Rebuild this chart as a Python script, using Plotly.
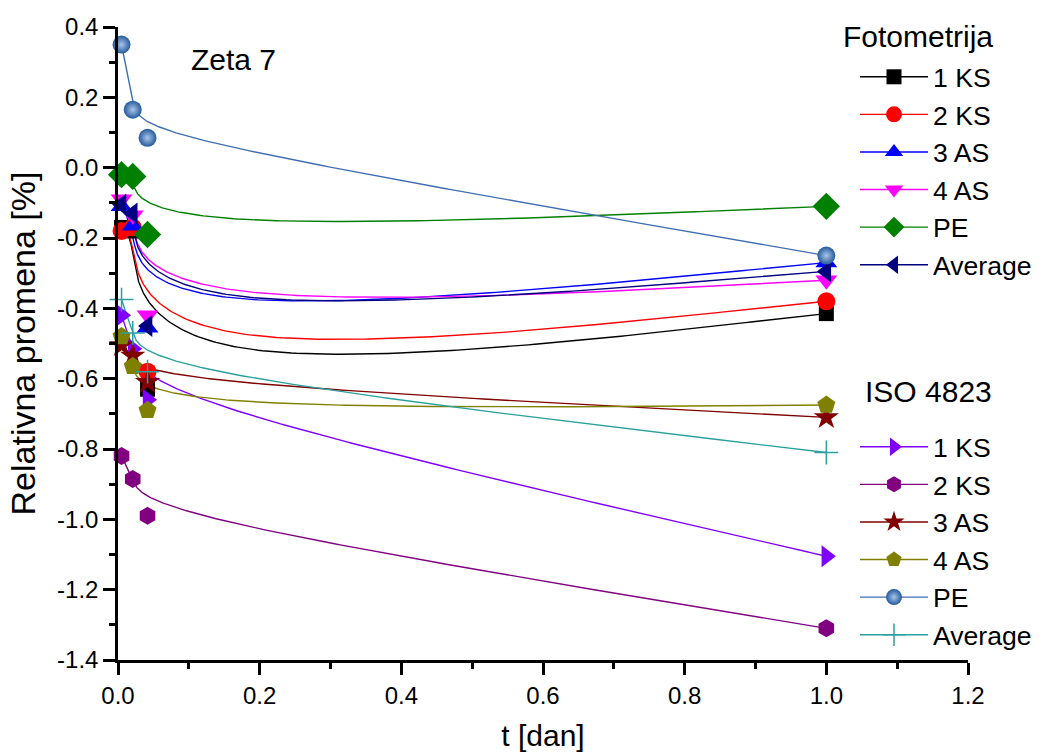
import numpy as np
import plotly.graph_objects as go

# ---------------- data ----------------
t_days = [0.005, 0.0208, 0.0417, 1.0]

foto_1ks = [-0.17, -0.18, -0.63, -0.415]
foto_2ks = [-0.18, -0.17, -0.58, -0.38]
foto_3as = [-0.11, -0.165, -0.455, -0.27]
foto_4as = [-0.09, -0.135, -0.42, -0.32]
foto_pe = [-0.02, -0.025, -0.19, -0.11]
foto_avg = [-0.105, -0.13, -0.45, -0.295]

iso_1ks = [-0.42, -0.515, -0.66, -1.105]
iso_2ks = [-0.82, -0.885, -0.99, -1.31]
iso_3as = [-0.505, -0.535, -0.61, -0.71]
iso_4as = [-0.48, -0.565, -0.69, -0.675]
iso_pe = [0.35, 0.165, 0.085, -0.25]
iso_avg = [-0.375, -0.47, -0.58, -0.81]

series_names = ["1 KS", "2 KS", "3 AS", "4 AS", "PE", "Average"]

y_tickvals = [0.4, 0.2, 0.0, -0.2, -0.4, -0.6, -0.8, -1.0, -1.2, -1.4]
y_ticktext = ["0.4", "0.2", "0.0", "-0.2", "-0.4", "-0.6", "-0.8", "-1.0", "-1.2", "-1.4"]
x_tickvals = [0.0, 0.2, 0.4, 0.6, 0.8, 1.0, 1.2]
x_ticktext = ["0.0", "0.2", "0.4", "0.6", "0.8", "1.0", "1.2"]


# ------- uniform cubic B-spline connection with clamped (tripled) ends -------
def bspline(xs, ys, n_seg=80):
    P = np.column_stack([xs, ys]).astype(float)
    C = np.vstack([P[0], P[0], P, P[-1], P[-1]])
    t = np.linspace(0, 1, n_seg)
    b0 = (1 - t) ** 3 / 6
    b1 = (3 * t ** 3 - 6 * t ** 2 + 4) / 6
    b2 = (-3 * t ** 3 + 3 * t ** 2 + 3 * t + 1) / 6
    b3 = t ** 3 / 6
    pts = []
    for i in range(len(C) - 3):
        seg = (np.outer(b0, C[i]) + np.outer(b1, C[i + 1]) +
               np.outer(b2, C[i + 2]) + np.outer(b3, C[i + 3]))
        pts.append(seg)
    pts = np.vstack(pts)
    return pts[:, 0], pts[:, 1]


FONT = "Liberation Sans, Arial, sans-serif"

foto_series = [foto_1ks, foto_2ks, foto_3as, foto_4as, foto_pe, foto_avg]
foto_styles = [
    dict(color="#000000", line="#000000", symbol="square", size=15),
    dict(color="#FF0000", line="#FF0000", symbol="circle", size=18),
    dict(color="#0000FF", line="#0000FF", symbol="triangle-up", size=19),
    dict(color="#FF00FF", line="#FF00FF", symbol="triangle-down", size=19),
    dict(color="#008000", line="#008000", symbol="diamond", size=21),
    dict(color="#000080", line="#000080", symbol="triangle-left", size=19),
]
iso_series = [iso_1ks, iso_2ks, iso_3as, iso_4as, iso_pe, iso_avg]
iso_styles = [
    dict(color="#8000FF", line="#8000FF", symbol="triangle-right", size=19),
    dict(color="#800080", line="#800080", symbol="hexagon", size=18),
    dict(color="#800000", line="#800000", symbol="star", size=19),
    dict(color="#808000", line="#808000", symbol="pentagon", size=19),
    dict(color="#255A9C", line="#3F6FB0", symbol="circle", size=18),
    dict(color="#2AA0A0", line="#2AA0A0", symbol="cross-thin", size=17),
]

fig = go.Figure()

# smoothed (B-spline) connection curves
for ys, st in zip(foto_series + iso_series, foto_styles + iso_styles):
    cx, cy = bspline(t_days, ys)
    fig.add_trace(go.Scatter(x=cx, y=cy, mode="lines", showlegend=False,
                             hoverinfo="skip",
                             line=dict(color=st["line"], width=1.4)))


def marker_dict(st):
    md = dict(symbol=st["symbol"], size=st["size"], color=st["color"],
              line=dict(width=0, color=st["color"]))
    if st["symbol"] == "cross-thin":
        md["line"] = dict(width=1.5, color=st["color"])
    if st["color"] == "#255A9C":
        md["gradient"] = dict(type="radial", color="#A9C6EA")
    return md


# data markers
for name, ys, st in zip(series_names, foto_series, foto_styles):
    fig.add_trace(go.Scatter(x=t_days, y=ys, mode="markers", showlegend=False,
                             name=name, marker=marker_dict(st), cliponaxis=False))
for name, ys, st in zip(series_names, iso_series, iso_styles):
    fig.add_trace(go.Scatter(x=t_days, y=ys, mode="markers", showlegend=False,
                             name=name, marker=marker_dict(st), cliponaxis=False))

# legend entries
for name, st in zip(series_names, foto_styles):
    fig.add_trace(go.Scatter(x=[None], y=[None], mode="lines+markers", name=name,
                             legend="legend", marker=marker_dict(st),
                             line=dict(color=st["line"], width=1.4)))
for name, st in zip(series_names, iso_styles):
    fig.add_trace(go.Scatter(x=[None], y=[None], mode="lines+markers", name=name,
                             legend="legend2", marker=marker_dict(st),
                             line=dict(color=st["line"], width=1.4)))

axis_common = dict(showline=True, linecolor="black", linewidth=2.5,
                   ticks="outside", ticklen=12, tickwidth=2.5, tickcolor="black",
                   showgrid=False, zeroline=False, mirror=False, automargin=False,
                   tickfont=dict(family=FONT, size=24, color="black"),
                   minor=dict(ticks="outside", ticklen=6, tickwidth=2.5,
                              dtick=0.1, tickcolor="black"))

L, R, T, B = 118, 80, 27, 94
PW, PH = 1048 - L - R, 754 - T - B


def px_x(px):
    return (px - L) / PW


def px_y(py):
    return (754 - B - py) / PH


fig.update_layout(
    width=1048, height=754,
    margin=dict(l=L, r=R, t=T, b=B, autoexpand=False),
    paper_bgcolor="white", plot_bgcolor="white",
    font=dict(family=FONT, color="black"),
    xaxis=dict(range=[0, 1.2], tickvals=x_tickvals, ticktext=x_ticktext,
               title=dict(text="t [dan]", font=dict(family=FONT, size=30),
                          standoff=18),
               **axis_common),
    yaxis=dict(range=[-1.4, 0.4], tickvals=y_tickvals, ticktext=y_ticktext,
               title=dict(text="Relativna promena [%]",
                          font=dict(family=FONT, size=34), standoff=12),
               **axis_common),
    legend=dict(x=px_x(855), y=px_y(53), xanchor="left",
                yanchor="top", bgcolor="rgba(0,0,0,0)",
                font=dict(family=FONT, size=26.6), itemwidth=68,
                tracegroupgap=0),
    legend2=dict(x=px_x(855), y=px_y(423), xanchor="left",
                 yanchor="top", bgcolor="rgba(0,0,0,0)",
                 font=dict(family=FONT, size=26.6), itemwidth=68,
                 tracegroupgap=0),
    annotations=[
        dict(text="Zeta 7", x=px_x(189), y=px_y(59),
             xref="paper", yref="paper", xanchor="left", yanchor="middle",
             showarrow=False, font=dict(family=FONT, size=30)),
        dict(text="Fotometrija", x=px_x(841), y=px_y(37),
             xref="paper", yref="paper", xanchor="left", yanchor="middle",
             showarrow=False, font=dict(family=FONT, size=30)),
        dict(text="ISO 4823", x=px_x(863), y=px_y(391),
             xref="paper", yref="paper", xanchor="left", yanchor="middle",
             showarrow=False, font=dict(family=FONT, size=30)),
    ],
)

fig.write_html("out.html", config={"displayModeBar": False},
               post_script="document.body.style.margin='0px';"
                           "document.body.style.padding='0px';")
